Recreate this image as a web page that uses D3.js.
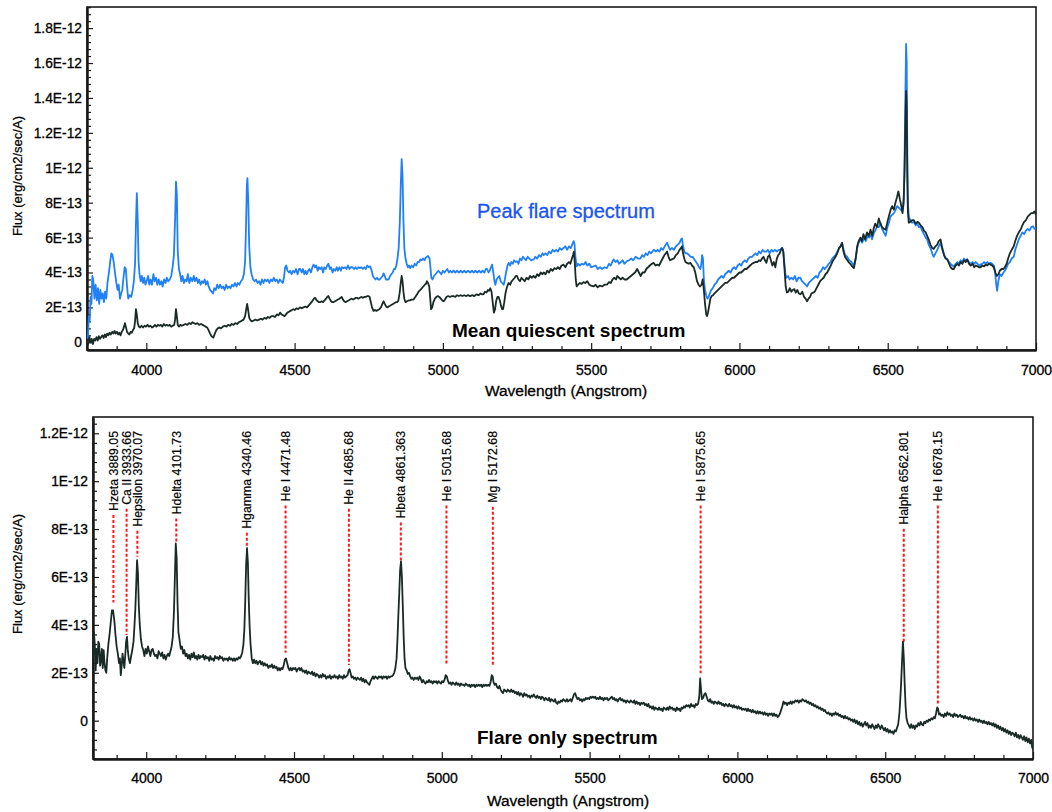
<!DOCTYPE html>
<html><head><meta charset="utf-8">
<script src="https://cdn.jsdelivr.net/npm/d3@7"></script>
<style>body{margin:0;background:#fff;} svg{display:block;} text{font-family:"Liberation Sans",Arial,sans-serif;}</style>
</head><body><svg id="c" width="1052" height="812"></svg>
<script>
// Flux values in units of 1E-13 erg/cm2/sec/A, wavelength in Angstrom
const peakFlare = [[3800,0.4],[3803,0.2],[3806,1.5],[3809,1.2],[3812,2.6],[3815,2.2],[3818,3.8],[3821,3.6],[3825,2.5],[3829,3.3],[3833,2.4],[3837,3.1],[3841,2.2],[3845,3.0],[3849,2.5],[3853,2.8],[3857,2.3],[3861,2.9],[3865,2.5],[3869,3.4],[3874,4.0],[3878,4.6],[3882,5.1],[3886,5.0],[3890,4.6],[3895,3.9],[3899,3.4],[3903,3.0],[3907,3.3],[3911,2.5],[3915,2.8],[3919,3.0],[3923,3.7],[3927,4.3],[3931,4.2],[3935,3.2],[3939,2.5],[3944,2.7],[3949,2.6],[3954,3.0],[3958,3.5],[3962,4.5],[3965,6.8],[3968,8.55],[3971,7.0],[3974,4.6],[3977,3.9],[3981,3.5],[3985,3.8],[3989,3.4],[3993,3.7],[3997,3.3],[4001,3.5],[4006,3.8],[4010,3.3],[4014,3.6],[4019,3.3],[4024,3.9],[4028,3.5],[4033,3.7],[4037,3.3],[4042,3.6],[4046,3.3],[4051,3.5],[4055,3.2],[4060,3.6],[4065,3.4],[4069,3.7],[4074,3.5],[4079,3.6],[4084,3.8],[4089,4.35],[4093,5.0],[4097,7.0],[4100,9.2],[4103,8.5],[4106,5.2],[4110,4.2],[4114,3.9],[4118,3.5],[4122,3.8],[4127,3.4],[4131,3.6],[4136,3.5],[4140,3.9],[4145,3.4],[4150,3.7],[4155,3.5],[4160,3.8],[4164,3.5],[4169,3.7],[4174,3.4],[4178,3.6],[4183,3.3],[4188,3.5],[4192,3.4],[4197,3.6],[4201,3.3],[4206,3.5],[4210,3.2],[4215,3.0],[4220,2.9],[4225,2.8],[4229,3.1],[4234,3.0],[4239,3.3],[4244,3.1],[4249,3.3],[4254,3.1],[4259,3.2],[4264,3.0],[4269,3.3],[4274,3.1],[4279,3.2],[4284,3.1],[4289,3.3],[4294,3.2],[4299,3.4],[4304,3.2],[4309,3.4],[4314,3.3],[4319,3.5],[4324,3.6],[4329,3.9],[4333,4.6],[4336,6.5],[4339,9.0],[4341,9.4],[4344,8.0],[4347,5.5],[4351,4.3],[4355,3.9],[4360,3.6],[4365,3.5],[4370,3.6],[4375,3.4],[4380,3.5],[4385,3.3],[4390,3.6],[4395,3.4],[4400,3.6],[4405,3.5],[4410,3.6],[4415,3.4],[4420,3.6],[4425,3.5],[4430,3.7],[4435,3.5],[4440,3.6],[4445,3.4],[4450,3.6],[4455,3.5],[4460,3.4],[4464,3.7],[4468,4.3],[4472,4.4],[4476,4.1],[4481,4.0],[4485,4.1],[4490,3.9],[4495,4.1],[4500,4.0],[4505,4.2],[4510,3.9],[4515,4.2],[4519,4.2],[4524,4.0],[4528,4.2],[4533,3.9],[4537,4.1],[4541,3.9],[4546,4.1],[4550,4.2],[4555,4.0],[4560,4.3],[4564,4.45],[4569,4.3],[4573,4.4],[4578,4.1],[4582,4.3],[4586,4.2],[4591,4.3],[4596,4.0],[4600,4.3],[4605,4.2],[4610,4.4],[4614,4.5],[4619,4.2],[4623,4.3],[4628,4.0],[4632,4.2],[4637,4.1],[4642,4.3],[4646,4.1],[4651,4.3],[4656,4.1],[4660,4.3],[4665,4.25],[4670,4.3],[4675,4.2],[4680,4.4],[4685,4.2],[4690,4.3],[4695,4.3],[4700,4.2],[4705,4.3],[4710,4.2],[4715,4.3],[4720,4.25],[4725,4.3],[4730,4.2],[4735,4.3],[4740,4.2],[4745,4.4],[4750,4.3],[4755,4.35],[4760,4.1],[4764,3.8],[4768,3.7],[4773,3.6],[4778,3.7],[4782,3.6],[4787,3.6],[4792,3.7],[4797,3.8],[4800,3.95],[4804,3.8],[4808,3.6],[4813,3.6],[4817,3.6],[4822,3.8],[4826,3.9],[4831,4.0],[4835,4.2],[4839,4.2],[4843,4.4],[4847,4.8],[4851,5.4],[4855,7.0],[4858,9.0],[4861,10.5],[4864,9.5],[4867,7.0],[4870,5.4],[4874,4.8],[4878,4.5],[4882,4.3],[4886,4.4],[4890,4.25],[4895,4.4],[4900,4.3],[4905,4.5],[4910,4.4],[4915,4.6],[4920,4.6],[4924,4.75],[4929,4.7],[4933,4.8],[4938,4.7],[4942,4.85],[4946,4.9],[4950,4.95],[4955,4.8],[4958,4.3],[4961,3.7],[4965,3.6],[4970,3.8],[4975,3.9],[4980,4.0],[4985,4.1],[4990,4.0],[4995,3.9],[5000,4.1],[5005,4.0],[5010,4.1],[5015,4.2],[5020,4.0],[5025,4.1],[5030,4.0],[5036,4.1],[5042,4.0],[5048,4.1],[5054,4.0],[5060,4.1],[5066,4.0],[5072,4.1],[5078,4.0],[5085,4.1],[5092,4.0],[5098,4.1],[5104,4.0],[5110,4.1],[5116,4.0],[5122,4.1],[5128,4.0],[5134,4.1],[5140,4.0],[5145,4.2],[5149,4.2],[5154,4.0],[5158,4.1],[5162,4.3],[5166,4.45],[5170,4.0],[5174,3.5],[5177,3.3],[5181,3.6],[5185,3.7],[5190,3.8],[5195,3.5],[5200,3.4],[5205,3.3],[5209,3.6],[5213,4.0],[5218,4.4],[5222,4.55],[5227,4.4],[5231,4.6],[5236,4.5],[5240,4.7],[5245,4.6],[5250,4.65],[5255,4.5],[5260,4.8],[5265,4.7],[5270,4.9],[5275,4.8],[5280,4.7],[5286,4.9],[5292,4.8],[5298,4.7],[5306,4.75],[5312,4.9],[5318,4.8],[5324,5.0],[5330,4.9],[5336,5.1],[5340,5.0],[5346,5.1],[5352,5.0],[5358,5.2],[5364,5.1],[5370,5.3],[5376,5.2],[5382,5.3],[5388,5.2],[5394,5.4],[5400,5.3],[5407,5.4],[5413,5.5],[5419,5.3],[5425,5.5],[5431,5.4],[5436,5.6],[5441,5.8],[5444,5.6],[5447,4.9],[5451,4.35],[5456,4.5],[5462,4.4],[5468,4.5],[5475,4.45],[5481,4.6],[5487,4.4],[5494,4.5],[5500,4.3],[5508,4.35],[5515,4.4],[5522,4.2],[5530,4.3],[5537,4.2],[5545,4.3],[5553,4.25],[5560,4.5],[5566,4.4],[5571,4.6],[5576,4.75],[5582,4.6],[5588,4.7],[5594,4.5],[5600,4.6],[5606,4.7],[5612,4.5],[5621,4.65],[5628,4.7],[5635,4.8],[5642,4.7],[5650,4.9],[5658,4.8],[5666,4.8],[5672,5.0],[5678,4.9],[5684,5.1],[5690,5.0],[5696,5.2],[5702,5.1],[5711,5.3],[5718,5.2],[5724,5.3],[5730,5.2],[5736,5.4],[5742,5.3],[5748,5.5],[5752,5.6],[5756,5.7],[5761,5.5],[5766,5.3],[5772,5.4],[5779,5.3],[5786,5.5],[5792,5.6],[5798,5.7],[5803,5.9],[5806,5.95],[5810,5.5],[5814,5.2],[5818,5.1],[5823,5.1],[5830,5.0],[5836,4.9],[5842,4.9],[5846,4.8],[5852,4.65],[5858,4.5],[5864,4.3],[5868,4.2],[5871,4.4],[5874,5.0],[5877,4.8],[5880,3.6],[5884,3.0],[5888,2.7],[5892,2.5],[5896,2.6],[5900,2.8],[5905,3.0],[5910,3.1],[5916,3.3],[5922,3.4],[5928,3.6],[5934,3.7],[5940,3.8],[5946,3.7],[5952,3.9],[5958,4.0],[5964,4.1],[5970,4.0],[5976,4.2],[5982,4.3],[5988,4.2],[5994,4.4],[6000,4.5],[6006,4.4],[6012,4.6],[6018,4.7],[6024,4.6],[6030,4.8],[6036,4.9],[6042,4.9],[6048,5.0],[6054,5.1],[6060,5.0],[6066,5.2],[6072,5.1],[6078,5.3],[6084,5.2],[6090,5.2],[6096,5.3],[6102,5.1],[6108,5.3],[6114,5.2],[6120,5.3],[6126,5.2],[6132,5.3],[6138,5.3],[6143,5.4],[6147,5.3],[6151,4.6],[6155,3.9],[6159,3.7],[6164,3.8],[6169,3.6],[6175,3.7],[6181,3.6],[6187,3.8],[6193,3.5],[6199,3.7],[6205,3.7],[6211,3.5],[6217,3.4],[6223,3.3],[6228,3.2],[6234,3.4],[6240,3.5],[6246,3.6],[6252,3.7],[6258,3.8],[6264,3.7],[6270,4.0],[6276,4.1],[6282,4.3],[6288,4.2],[6295,4.35],[6301,4.5],[6307,4.6],[6313,4.8],[6318,4.9],[6324,5.0],[6330,5.2],[6336,5.4],[6341,5.5],[6346,5.7],[6351,5.3],[6356,5.0],[6363,4.9],[6370,4.7],[6378,4.6],[6386,4.4],[6392,4.8],[6397,5.4],[6402,5.7],[6408,5.9],[6414,5.7],[6420,6.0],[6426,5.8],[6432,6.1],[6437,6.0],[6442,6.25],[6447,5.9],[6453,6.25],[6458,6.4],[6464,6.65],[6470,6.6],[6476,6.85],[6481,6.5],[6487,6.3],[6493,6.1],[6499,6.6],[6505,6.9],[6509,7.2],[6515,7.3],[6521,7.4],[6527,7.6],[6532,7.8],[6538,7.7],[6544,7.6],[6549,7.5],[6553,7.8],[6556,9.5],[6559,13.5],[6562,17.1],[6564,16.0],[6566,11.0],[6568,8.0],[6571,7.2],[6576,7.0],[6582,6.85],[6588,6.9],[6594,6.7],[6600,6.8],[6605,6.6],[6610,6.65],[6616,6.4],[6622,6.2],[6628,6.0],[6633,5.9],[6638,5.6],[6644,5.4],[6650,5.1],[6655,4.9],[6661,5.1],[6667,5.3],[6672,5.5],[6678,5.7],[6684,5.3],[6690,5.0],[6695,4.85],[6701,4.75],[6707,4.6],[6712,4.5],[6718,4.4],[6723,4.35],[6729,4.5],[6735,4.6],[6740,4.5],[6746,4.7],[6752,4.6],[6757,4.8],[6763,4.7],[6768,4.75],[6774,4.6],[6780,4.5],[6786,4.6],[6792,4.5],[6797,4.6],[6803,4.5],[6808,4.4],[6813,4.45],[6819,4.5],[6825,4.6],[6830,4.5],[6836,4.6],[6841,4.5],[6847,4.55],[6852,4.5],[6858,4.4],[6862,4.0],[6866,3.3],[6869,2.95],[6873,3.5],[6878,3.9],[6884,3.8],[6890,4.0],[6895,4.1],[6901,4.3],[6906,4.5],[6912,4.6],[6918,4.8],[6925,4.9],[6930,5.3],[6936,5.6],[6942,5.9],[6948,6.1],[6954,6.3],[6960,6.2],[6966,6.4],[6972,6.5],[6978,6.4],[6984,6.6],[6990,6.65],[6995,6.5],[7000,6.55]];

const quiescent = [[3800,0.2],[3804,-0.1],[3808,0.3],[3812,0.0],[3816,0.2],[3820,-0.1],[3824,0.2],[3828,0.1],[3832,0.3],[3836,0.1],[3840,0.35],[3844,0.2],[3848,0.3],[3852,0.4],[3856,0.25],[3860,0.45],[3864,0.3],[3868,0.5],[3872,0.4],[3876,0.55],[3880,0.45],[3885,0.6],[3889,0.5],[3893,0.65],[3897,0.5],[3901,0.6],[3905,0.45],[3909,0.55],[3913,0.4],[3917,0.6],[3921,0.7],[3925,0.9],[3928,1.1],[3931,0.9],[3935,0.6],[3939,0.5],[3943,0.45],[3947,0.6],[3951,0.55],[3955,0.7],[3959,0.8],[3962,1.2],[3965,1.9],[3968,1.6],[3971,1.1],[3975,0.9],[3979,0.85],[3984,0.95],[3989,0.85],[3994,0.95],[3999,0.9],[4004,1.0],[4009,0.9],[4014,0.95],[4019,0.85],[4024,0.9],[4029,1.0],[4034,0.9],[4039,1.0],[4044,0.95],[4049,1.0],[4054,0.9],[4059,1.05],[4064,0.95],[4069,1.0],[4074,0.95],[4079,1.0],[4084,0.9],[4089,0.95],[4094,1.0],[4097,1.3],[4100,1.9],[4103,1.5],[4106,1.0],[4110,0.9],[4115,1.0],[4120,0.95],[4126,1.0],[4132,1.05],[4138,1.0],[4144,1.1],[4150,1.05],[4156,1.15],[4160,1.1],[4166,1.05],[4172,1.1],[4178,1.0],[4184,1.05],[4190,1.0],[4195,0.95],[4200,0.9],[4205,0.85],[4210,0.7],[4215,0.5],[4220,0.35],[4226,0.27],[4231,0.5],[4236,0.7],[4241,0.8],[4246,0.85],[4252,0.8],[4258,0.9],[4264,0.95],[4270,0.9],[4276,1.0],[4282,0.95],[4288,1.05],[4294,1.0],[4300,1.1],[4306,1.05],[4312,1.15],[4318,1.2],[4323,1.25],[4328,1.3],[4333,1.5],[4337,1.9],[4340,2.2],[4343,1.9],[4347,1.4],[4352,1.25],[4356,1.2],[4362,1.25],[4368,1.3],[4374,1.25],[4380,1.3],[4386,1.35],[4392,1.3],[4398,1.4],[4404,1.35],[4410,1.45],[4416,1.4],[4422,1.5],[4428,1.5],[4434,1.45],[4440,1.6],[4446,1.55],[4451,1.7],[4456,1.6],[4461,1.55],[4466,1.5],[4471,1.6],[4476,1.7],[4481,1.75],[4486,1.8],[4491,1.85],[4496,1.9],[4501,1.85],[4506,1.95],[4512,1.9],[4518,2.0],[4524,1.95],[4530,2.0],[4536,2.05],[4542,2.0],[4547,2.1],[4552,2.2],[4557,2.3],[4561,2.4],[4565,2.5],[4569,2.55],[4573,2.45],[4578,2.35],[4582,2.3],[4586,2.3],[4591,2.35],[4596,2.3],[4601,2.4],[4606,2.5],[4610,2.6],[4614,2.65],[4618,2.5],[4623,2.35],[4627,2.3],[4631,2.3],[4636,2.35],[4641,2.4],[4646,2.45],[4651,2.5],[4655,2.55],[4659,2.6],[4663,2.45],[4667,2.35],[4672,2.3],[4677,2.35],[4682,2.4],[4687,2.45],[4692,2.5],[4697,2.45],[4702,2.5],[4706,2.55],[4710,2.55],[4715,2.5],[4720,2.55],[4725,2.6],[4730,2.55],[4735,2.6],[4740,2.6],[4745,2.65],[4749,2.65],[4753,2.6],[4757,2.3],[4761,2.0],[4766,1.8],[4771,1.85],[4776,1.8],[4781,1.85],[4786,1.9],[4791,2.0],[4796,2.2],[4800,2.35],[4804,2.2],[4809,2.05],[4813,2.0],[4817,2.05],[4822,2.1],[4827,2.15],[4832,2.2],[4837,2.25],[4842,2.3],[4846,2.3],[4850,2.4],[4854,2.8],[4858,3.4],[4861,3.8],[4864,3.5],[4867,2.9],[4870,2.5],[4874,2.3],[4879,2.35],[4884,2.4],[4889,2.4],[4895,2.45],[4901,2.45],[4907,2.6],[4913,2.75],[4918,2.9],[4924,3.0],[4929,3.1],[4934,3.2],[4939,3.3],[4943,3.35],[4946,3.5],[4950,3.4],[4954,3.2],[4957,2.6],[4960,1.9],[4964,2.0],[4968,2.3],[4973,2.5],[4978,2.6],[4983,2.65],[4988,2.6],[4993,2.5],[4998,2.4],[5002,2.35],[5007,2.45],[5012,2.6],[5018,2.65],[5024,2.6],[5030,2.65],[5036,2.65],[5042,2.6],[5048,2.7],[5054,2.65],[5060,2.7],[5066,2.65],[5072,2.7],[5078,2.65],[5085,2.7],[5092,2.65],[5099,2.7],[5106,2.65],[5113,2.75],[5120,2.7],[5127,2.8],[5133,2.75],[5137,2.75],[5142,2.9],[5147,2.85],[5152,3.0],[5156,2.95],[5160,3.1],[5164,2.9],[5168,2.3],[5172,1.7],[5176,1.9],[5180,2.4],[5184,2.6],[5188,2.6],[5192,2.4],[5196,2.1],[5200,1.9],[5203,1.9],[5207,2.3],[5211,2.8],[5215,3.1],[5219,3.3],[5222,3.4],[5227,3.3],[5232,3.5],[5237,3.6],[5242,3.7],[5246,3.8],[5250,3.8],[5255,3.6],[5260,3.5],[5265,3.7],[5270,3.6],[5276,3.5],[5282,3.7],[5288,3.6],[5294,3.8],[5300,3.7],[5306,3.8],[5312,3.7],[5318,3.9],[5324,3.8],[5330,4.0],[5336,3.9],[5340,4.0],[5346,3.9],[5352,4.1],[5358,4.0],[5364,4.2],[5370,4.1],[5376,4.25],[5382,4.2],[5388,4.3],[5394,4.2],[5400,4.4],[5407,4.45],[5413,4.3],[5419,4.5],[5425,4.6],[5430,4.5],[5435,4.8],[5439,5.0],[5442,5.2],[5445,4.5],[5448,3.6],[5451,3.2],[5456,3.3],[5462,3.4],[5468,3.35],[5474,3.45],[5480,3.4],[5487,3.5],[5494,3.3],[5500,3.25],[5508,3.2],[5515,3.3],[5522,3.15],[5530,3.25],[5537,3.2],[5545,3.3],[5553,3.3],[5560,3.45],[5566,3.4],[5572,3.6],[5578,3.7],[5584,3.6],[5588,3.8],[5594,3.7],[5600,3.6],[5606,3.7],[5612,3.6],[5620,3.6],[5627,3.7],[5634,3.8],[5641,3.9],[5648,4.0],[5655,4.2],[5661,4.0],[5667,3.8],[5673,4.0],[5680,4.0],[5686,4.2],[5692,4.3],[5698,4.4],[5705,4.5],[5711,4.55],[5717,4.4],[5723,4.45],[5729,4.4],[5735,4.6],[5741,4.8],[5747,5.0],[5752,5.1],[5756,5.2],[5761,4.9],[5766,4.7],[5772,4.75],[5779,4.8],[5786,5.0],[5792,5.1],[5798,5.3],[5803,5.4],[5806,5.5],[5810,5.1],[5814,4.8],[5818,4.6],[5823,4.55],[5829,4.5],[5835,4.55],[5840,4.4],[5846,4.3],[5851,4.0],[5857,3.5],[5862,3.3],[5867,3.2],[5872,3.3],[5876,3.6],[5880,3.0],[5884,2.2],[5888,1.6],[5891,1.5],[5894,1.7],[5898,2.1],[5902,2.5],[5906,2.65],[5911,2.7],[5916,2.8],[5922,2.9],[5928,3.0],[5934,3.1],[5940,3.2],[5946,3.3],[5952,3.4],[5958,3.4],[5964,3.5],[5970,3.6],[5976,3.7],[5982,3.7],[5988,3.8],[5994,3.9],[6000,4.0],[6006,4.0],[6012,4.1],[6018,4.2],[6024,4.2],[6030,4.3],[6036,4.4],[6042,4.5],[6048,4.55],[6054,4.6],[6060,4.6],[6066,4.7],[6071,4.65],[6076,4.8],[6081,4.9],[6086,4.7],[6091,4.55],[6096,4.9],[6101,5.0],[6106,4.7],[6111,4.4],[6116,4.6],[6121,4.3],[6126,4.8],[6131,5.0],[6136,5.1],[6140,5.3],[6144,5.4],[6148,5.2],[6152,4.2],[6156,3.2],[6160,2.85],[6165,2.9],[6170,3.1],[6175,2.9],[6180,3.0],[6185,3.05],[6190,2.85],[6195,3.0],[6200,2.8],[6206,2.75],[6212,2.9],[6218,2.6],[6223,2.5],[6228,2.35],[6233,2.5],[6238,2.6],[6243,2.8],[6248,2.85],[6254,2.9],[6260,3.1],[6266,3.3],[6272,3.5],[6278,3.6],[6284,3.7],[6290,3.9],[6296,4.0],[6302,4.2],[6308,4.4],[6313,4.6],[6318,4.75],[6324,4.9],[6330,5.1],[6336,5.4],[6341,5.5],[6346,5.7],[6351,5.2],[6356,4.9],[6362,4.75],[6368,4.6],[6374,4.5],[6380,4.35],[6386,4.25],[6392,4.8],[6397,5.5],[6402,5.8],[6408,6.0],[6413,5.8],[6418,6.2],[6424,5.9],[6430,6.3],[6436,6.1],[6442,6.45],[6448,6.1],[6453,6.55],[6458,6.8],[6464,6.6],[6470,7.1],[6475,6.8],[6481,6.6],[6487,6.5],[6493,6.45],[6499,6.9],[6505,7.3],[6510,7.6],[6515,7.8],[6521,7.6],[6526,8.0],[6531,8.3],[6536,8.65],[6541,8.2],[6546,7.8],[6550,7.4],[6554,8.2],[6557,10.0],[6560,13.0],[6562,14.4],[6564,13.4],[6566,9.5],[6568,7.5],[6571,6.85],[6576,6.9],[6582,7.0],[6588,7.0],[6594,6.8],[6600,6.9],[6605,6.85],[6611,6.7],[6617,6.6],[6622,6.4],[6628,6.3],[6633,6.1],[6638,5.9],[6644,5.6],[6650,5.4],[6655,5.35],[6661,5.5],[6667,5.6],[6672,5.8],[6678,5.9],[6684,5.4],[6690,5.0],[6695,4.8],[6701,4.75],[6707,4.5],[6712,4.3],[6718,4.2],[6723,4.2],[6729,4.4],[6735,4.5],[6740,4.4],[6746,4.6],[6752,4.5],[6757,4.7],[6763,4.6],[6768,4.75],[6774,4.5],[6780,4.4],[6786,4.5],[6792,4.3],[6797,4.4],[6803,4.35],[6808,4.3],[6813,4.3],[6819,4.4],[6825,4.35],[6830,4.45],[6836,4.4],[6841,4.5],[6847,4.45],[6852,4.4],[6858,4.3],[6863,4.0],[6868,3.8],[6873,3.9],[6878,4.1],[6884,4.2],[6890,4.2],[6895,4.3],[6901,4.5],[6906,4.8],[6912,5.1],[6918,5.3],[6925,5.5],[6930,5.8],[6936,6.1],[6942,6.3],[6948,6.45],[6954,6.7],[6960,6.9],[6966,7.0],[6972,7.2],[6978,7.3],[6984,7.4],[6990,7.4],[6995,7.5],[7000,7.3]];

const flareOnly = [[3820,2.6],[3823,3.7],[3826,3.2],[3829,2.1],[3832,3.0],[3835,2.4],[3838,3.3],[3841,3.2],[3844,2.3],[3847,2.5],[3850,3.0],[3853,2.2],[3856,2.95],[3859,2.4],[3862,2.1],[3865,2.0],[3868,2.6],[3872,3.2],[3876,3.6],[3880,4.1],[3884,4.6],[3888,4.6],[3892,4.2],[3896,3.6],[3900,3.1],[3904,2.8],[3908,2.4],[3911,2.6],[3914,1.9],[3917,2.3],[3920,2.8],[3923,2.5],[3926,2.2],[3929,2.7],[3932,3.3],[3935,3.5],[3938,2.9],[3941,2.6],[3945,2.4],[3949,2.7],[3953,2.95],[3957,3.3],[3960,3.9],[3963,4.6],[3966,5.6],[3969,6.7],[3972,6.2],[3975,4.8],[3978,4.05],[3982,3.4],[3986,3.1],[3990,2.95],[3994,2.7],[3998,3.0],[4002,2.8],[4006,3.1],[4010,2.9],[4014,2.7],[4018,2.95],[4022,3.0],[4026,2.8],[4030,2.7],[4034,2.75],[4038,2.6],[4042,2.9],[4046,2.8],[4050,2.7],[4054,2.85],[4058,2.6],[4062,2.75],[4066,2.55],[4070,2.7],[4074,2.8],[4078,2.7],[4082,2.9],[4086,3.1],[4090,3.5],[4094,4.6],[4097,6.0],[4100,7.4],[4103,6.8],[4106,4.9],[4109,3.7],[4113,3.35],[4117,3.0],[4121,3.1],[4125,2.8],[4129,2.95],[4133,2.7],[4137,2.8],[4141,2.6],[4145,2.75],[4149,2.55],[4153,2.8],[4157,2.65],[4161,2.85],[4165,2.6],[4169,2.7],[4173,2.55],[4177,2.75],[4181,2.6],[4185,2.7],[4189,2.65],[4193,2.75],[4197,2.55],[4201,2.7],[4205,2.6],[4209,2.65],[4213,2.5],[4217,2.7],[4221,2.55],[4225,2.6],[4229,2.5],[4233,2.7],[4237,2.6],[4241,2.65],[4245,2.55],[4249,2.7],[4253,2.6],[4257,2.65],[4261,2.5],[4265,2.6],[4269,2.55],[4273,2.6],[4277,2.5],[4281,2.65],[4285,2.55],[4289,2.6],[4293,2.5],[4297,2.6],[4301,2.5],[4305,2.6],[4309,2.55],[4313,2.65],[4317,2.6],[4321,2.7],[4325,2.85],[4329,3.2],[4332,3.8],[4335,5.0],[4338,6.5],[4341,7.2],[4344,6.6],[4347,5.0],[4350,3.9],[4353,3.2],[4357,2.6],[4361,2.4],[4365,2.55],[4369,2.4],[4373,2.5],[4377,2.35],[4381,2.45],[4385,2.5],[4389,2.35],[4393,2.45],[4397,2.3],[4401,2.4],[4405,2.3],[4409,2.35],[4413,2.2],[4417,2.3],[4421,2.25],[4425,2.35],[4429,2.2],[4433,2.3],[4437,2.2],[4441,2.25],[4445,2.1],[4449,2.2],[4453,2.1],[4457,2.2],[4461,2.15],[4465,2.3],[4469,2.55],[4473,2.6],[4477,2.4],[4481,2.2],[4485,2.1],[4489,2.2],[4493,2.1],[4497,2.2],[4501,2.15],[4505,2.2],[4509,2.05],[4513,2.15],[4517,2.2],[4521,2.1],[4525,2.2],[4529,2.05],[4533,2.1],[4537,2.0],[4541,2.1],[4545,1.95],[4549,2.05],[4553,2.0],[4557,1.95],[4561,2.05],[4565,1.9],[4569,2.0],[4573,1.85],[4577,1.95],[4581,1.9],[4585,1.8],[4589,1.9],[4593,1.8],[4597,1.95],[4601,1.85],[4605,1.9],[4609,1.75],[4613,1.85],[4617,1.8],[4621,1.9],[4625,1.75],[4629,1.85],[4633,1.8],[4637,1.9],[4641,1.8],[4645,1.85],[4649,1.75],[4653,1.9],[4657,1.8],[4661,1.85],[4665,1.75],[4669,1.9],[4673,1.8],[4677,1.85],[4681,1.9],[4685,2.1],[4688,2.15],[4691,2.0],[4695,1.8],[4699,1.85],[4703,1.75],[4707,1.8],[4711,1.7],[4715,1.8],[4719,1.75],[4723,1.7],[4727,1.8],[4731,1.65],[4735,1.75],[4739,1.6],[4743,1.7],[4747,1.6],[4751,1.55],[4755,1.5],[4759,1.65],[4763,1.75],[4767,1.85],[4771,1.75],[4775,1.85],[4779,1.8],[4783,1.75],[4787,1.85],[4791,1.8],[4795,1.85],[4799,1.75],[4803,1.85],[4807,1.8],[4811,1.85],[4815,1.75],[4819,1.85],[4823,1.8],[4827,1.85],[4831,1.85],[4835,1.9],[4839,2.0],[4843,2.2],[4847,2.6],[4850,3.4],[4853,4.4],[4856,5.3],[4859,6.3],[4862,6.65],[4865,6.0],[4868,4.8],[4871,3.5],[4874,2.6],[4877,2.2],[4881,2.1],[4885,1.95],[4889,2.0],[4893,1.85],[4897,1.75],[4901,1.8],[4905,1.7],[4909,1.8],[4913,1.75],[4917,1.8],[4921,1.7],[4925,1.85],[4929,1.75],[4933,1.6],[4937,1.7],[4941,1.6],[4945,1.55],[4949,1.65],[4953,1.6],[4957,1.7],[4961,1.6],[4965,1.65],[4969,1.55],[4973,1.65],[4977,1.6],[4981,1.65],[4985,1.55],[4989,1.65],[4993,1.6],[4997,1.55],[5001,1.65],[5005,1.6],[5009,1.7],[5013,1.9],[5017,1.85],[5021,1.65],[5025,1.55],[5029,1.6],[5033,1.5],[5037,1.6],[5041,1.55],[5045,1.5],[5049,1.6],[5053,1.5],[5057,1.55],[5061,1.45],[5065,1.55],[5069,1.5],[5073,1.5],[5077,1.45],[5081,1.55],[5085,1.5],[5089,1.45],[5093,1.5],[5097,1.4],[5101,1.5],[5105,1.45],[5109,1.5],[5113,1.4],[5117,1.5],[5121,1.45],[5125,1.5],[5129,1.45],[5133,1.5],[5137,1.4],[5141,1.5],[5145,1.45],[5149,1.5],[5153,1.45],[5157,1.5],[5161,1.45],[5165,1.6],[5169,1.9],[5172,1.85],[5175,1.6],[5179,1.5],[5183,1.55],[5187,1.4],[5191,1.35],[5195,1.45],[5199,1.3],[5203,1.2],[5207,1.15],[5211,1.3],[5215,1.25],[5219,1.2],[5223,1.3],[5227,1.25],[5231,1.2],[5235,1.3],[5239,1.2],[5243,1.25],[5247,1.15],[5251,1.2],[5255,1.1],[5259,1.2],[5263,1.05],[5267,1.15],[5271,1.1],[5275,1.0],[5279,1.15],[5283,1.05],[5287,1.1],[5291,1.0],[5295,1.05],[5299,0.95],[5303,1.05],[5307,1.0],[5311,1.1],[5315,1.0],[5319,0.95],[5323,1.05],[5327,0.95],[5331,1.0],[5335,0.9],[5339,1.0],[5343,0.95],[5347,0.85],[5351,0.95],[5355,0.9],[5359,0.85],[5363,0.95],[5367,0.8],[5371,0.9],[5375,0.85],[5379,0.8],[5383,0.9],[5387,0.75],[5391,0.7],[5395,0.8],[5399,0.75],[5403,0.85],[5407,0.8],[5411,0.9],[5415,0.85],[5419,0.8],[5423,0.9],[5427,0.8],[5431,0.85],[5435,0.9],[5439,0.8],[5443,0.95],[5447,1.1],[5451,1.15],[5455,1.0],[5459,0.9],[5463,0.95],[5467,0.85],[5471,0.9],[5475,0.8],[5479,0.9],[5483,0.85],[5487,0.95],[5491,0.9],[5495,0.95],[5499,0.9],[5503,1.0],[5507,0.95],[5511,1.0],[5515,0.95],[5519,1.0],[5523,0.9],[5527,0.95],[5531,0.9],[5535,1.0],[5539,0.9],[5543,0.95],[5547,0.85],[5551,0.95],[5555,0.9],[5559,0.95],[5563,0.85],[5567,0.9],[5571,0.95],[5575,1.0],[5579,0.9],[5583,0.95],[5587,0.85],[5591,0.9],[5595,0.8],[5599,0.9],[5603,0.95],[5607,0.85],[5611,0.9],[5615,0.8],[5619,0.85],[5623,0.75],[5627,0.85],[5631,0.8],[5635,0.75],[5639,0.85],[5643,0.8],[5647,0.75],[5651,0.85],[5655,0.7],[5659,0.8],[5663,0.7],[5667,0.75],[5671,0.65],[5675,0.75],[5679,0.7],[5683,0.75],[5687,0.65],[5691,0.7],[5695,0.6],[5699,0.7],[5703,0.55],[5707,0.6],[5711,0.5],[5715,0.6],[5719,0.45],[5723,0.55],[5727,0.5],[5731,0.45],[5735,0.55],[5739,0.45],[5743,0.5],[5747,0.4],[5751,0.55],[5755,0.5],[5759,0.45],[5763,0.55],[5767,0.45],[5771,0.6],[5775,0.5],[5779,0.55],[5783,0.45],[5787,0.5],[5791,0.4],[5795,0.55],[5799,0.45],[5803,0.5],[5807,0.4],[5811,0.55],[5815,0.5],[5819,0.6],[5823,0.55],[5827,0.65],[5831,0.6],[5835,0.65],[5839,0.55],[5843,0.7],[5847,0.6],[5851,0.65],[5855,0.55],[5859,0.7],[5863,0.65],[5867,0.7],[5871,1.0],[5874,1.77],[5877,1.3],[5880,0.9],[5884,0.95],[5888,1.1],[5892,1.15],[5896,1.0],[5900,0.85],[5904,0.8],[5908,0.9],[5912,0.75],[5916,0.8],[5920,0.7],[5924,0.8],[5928,0.75],[5932,0.7],[5936,0.8],[5940,0.7],[5944,0.75],[5948,0.65],[5952,0.7],[5956,0.6],[5960,0.7],[5964,0.65],[5968,0.6],[5972,0.7],[5976,0.6],[5980,0.65],[5984,0.55],[5988,0.65],[5992,0.55],[5996,0.6],[6000,0.5],[6004,0.6],[6008,0.5],[6012,0.55],[6016,0.45],[6020,0.5],[6024,0.45],[6028,0.5],[6032,0.4],[6036,0.5],[6040,0.4],[6044,0.45],[6048,0.35],[6052,0.45],[6056,0.35],[6060,0.4],[6064,0.3],[6068,0.4],[6072,0.3],[6076,0.38],[6080,0.3],[6084,0.35],[6088,0.25],[6092,0.35],[6096,0.25],[6100,0.3],[6104,0.2],[6108,0.3],[6112,0.25],[6116,0.3],[6120,0.2],[6124,0.3],[6128,0.2],[6132,0.25],[6136,0.15],[6140,0.2],[6144,0.3],[6148,0.45],[6152,0.6],[6156,0.8],[6160,0.7],[6164,0.75],[6168,0.65],[6172,0.75],[6176,0.7],[6180,0.8],[6184,0.7],[6188,0.8],[6192,0.75],[6196,0.85],[6200,0.8],[6204,0.85],[6208,0.75],[6212,0.85],[6216,0.8],[6220,0.9],[6224,0.86],[6228,0.8],[6232,0.85],[6236,0.75],[6240,0.8],[6244,0.7],[6248,0.75],[6252,0.65],[6256,0.7],[6260,0.6],[6264,0.65],[6268,0.55],[6272,0.6],[6276,0.5],[6280,0.55],[6284,0.45],[6288,0.5],[6292,0.4],[6296,0.45],[6300,0.35],[6304,0.3],[6308,0.35],[6312,0.25],[6316,0.3],[6320,0.2],[6324,0.3],[6328,0.25],[6332,0.35],[6336,0.25],[6340,0.3],[6344,0.2],[6348,0.25],[6352,0.15],[6356,0.2],[6360,0.1],[6364,0.2],[6368,0.1],[6372,0.15],[6376,0.05],[6380,0.1],[6384,0.0],[6388,0.05],[6392,-0.05],[6396,0.05],[6400,-0.1],[6404,0.0],[6408,-0.15],[6412,-0.05],[6416,-0.2],[6420,-0.1],[6424,-0.25],[6428,-0.15],[6432,-0.05],[6436,-0.2],[6440,-0.1],[6444,-0.3],[6448,-0.2],[6452,-0.3],[6456,-0.15],[6460,-0.25],[6464,-0.35],[6468,-0.2],[6472,-0.3],[6476,-0.15],[6480,-0.25],[6484,-0.35],[6488,-0.2],[6492,-0.3],[6496,-0.4],[6500,-0.3],[6504,-0.45],[6508,-0.35],[6512,-0.5],[6516,-0.4],[6520,-0.5],[6524,-0.45],[6528,-0.55],[6532,-0.4],[6536,-0.45],[6540,-0.3],[6544,-0.15],[6548,0.3],[6551,0.9],[6554,1.6],[6557,2.5],[6560,3.3],[6563,2.6],[6566,1.5],[6569,0.6],[6572,0.1],[6576,-0.1],[6580,-0.2],[6584,-0.3],[6588,-0.15],[6592,-0.3],[6596,-0.2],[6600,-0.35],[6604,-0.2],[6608,-0.25],[6612,-0.1],[6616,-0.2],[6620,-0.05],[6624,-0.15],[6628,-0.2],[6632,-0.05],[6636,-0.1],[6640,0.0],[6644,-0.05],[6648,0.05],[6652,0.0],[6656,0.1],[6660,0.05],[6664,0.15],[6668,0.1],[6672,0.3],[6676,0.55],[6679,0.5],[6682,0.25],[6686,0.3],[6690,0.2],[6694,0.25],[6698,0.15],[6702,0.3],[6706,0.2],[6710,0.35],[6714,0.25],[6718,0.3],[6722,0.2],[6726,0.25],[6730,0.15],[6734,0.3],[6738,0.2],[6742,0.25],[6746,0.15],[6750,0.2],[6754,0.25],[6758,0.15],[6762,0.2],[6766,0.1],[6770,0.2],[6774,0.1],[6778,0.15],[6782,0.05],[6786,0.15],[6790,0.05],[6794,0.1],[6798,0.0],[6802,0.1],[6806,0.0],[6810,0.05],[6814,-0.05],[6818,0.05],[6822,-0.05],[6826,0.0],[6830,-0.1],[6834,0.0],[6838,-0.1],[6842,-0.05],[6846,-0.15],[6850,-0.05],[6854,-0.15],[6858,-0.1],[6862,-0.2],[6866,-0.1],[6870,-0.25],[6874,-0.15],[6878,-0.3],[6882,-0.2],[6886,-0.35],[6890,-0.25],[6894,-0.4],[6898,-0.3],[6902,-0.45],[6906,-0.35],[6910,-0.5],[6914,-0.4],[6918,-0.55],[6922,-0.45],[6926,-0.6],[6930,-0.5],[6934,-0.55],[6938,-0.65],[6942,-0.5],[6946,-0.7],[6950,-0.6],[6954,-0.75],[6958,-0.6],[6962,-0.7],[6966,-0.8],[6970,-0.65],[6974,-0.85],[6978,-0.7],[6982,-0.9],[6986,-0.75],[6990,-0.95],[6994,-0.8],[6997,-1.1],[7000,-1.2]];

const lineNames = ["Hzeta 3889.05","Ca II 3933.66","Hepsilon 3970.07","Hdelta 4101.73","Hgamma 4340.46","He I 4471.48","He II 4685.68","Hbeta 4861.363","He I 5015.68","Mg I 5172.68","He I 5875.65","Halpha 6562.801","He I 6678.15"];
const lineWaves = [3889.05,3933.66,3970.07,4101.73,4340.46,4471.48,4685.68,4861.363,5015.68,5172.68,5875.65,6562.801,6678.15];
const lineMarkFlux = [4.93,3.58,6.85,7.47,7.21,2.84,2.33,6.64,2.33,2.25,1.98,3.23,0.66];

const xTickValues = [4000,4500,5000,5500,6000,6500,7000];
const topYTickValues = [0,2,4,6,8,10,12,14,16,18];
const topYTickLabels = ["0","2E-13","4E-13","6E-13","8E-13","1E-12","1.2E-12","1.4E-12","1.6E-12","1.8E-12"];
const botYTickValues = [0,2,4,6,8,10,12];
const botYTickLabels = ["0","2E-13","4E-13","6E-13","8E-13","1E-12","1.2E-12"];

const BLUE = "#1f80f7", DARK = "#1a2a26", AXIS = "#1a1a1a";
const svg = d3.select("#c");
svg.append("rect").attr("width",1052).attr("height",812).attr("fill","#fff");

function heavy(sel, w){ sel.attr("fill","#000").attr("stroke","#000").attr("stroke-width",w).attr("paint-order","stroke"); }

function panel(opts){
  const {x0,x1,y0,y1,xDom,yDom,yVals,yLabels,xPad,clipId} = opts;
  const x = d3.scaleLinear().domain(xDom).range([x0,x1]);
  const y = d3.scaleLinear().domain(yDom).range([y1,y0]);
  const g = svg.append("g");
  g.append("clipPath").attr("id",clipId).append("rect").attr("x",x0).attr("y",y0).attr("width",x1-x0).attr("height",y1-y0);
  const minorX = d3.range(Math.ceil(xDom[0]/100)*100, xDom[1]+1, 100).filter(v=>v%500!==0);
  const minorY = d3.range(Math.ceil(yDom[0]/0.4)*0.4, yDom[1], 0.4).filter(v=>Math.abs(v/2-Math.round(v/2))>0.01);
  const gx = g.append("g").attr("transform",`translate(0,${y1})`)
    .call(d3.axisBottom(x).tickValues(xTickValues).tickSizeInner(-7).tickSizeOuter(0).tickPadding(xPad).tickFormat(d3.format("d")));
  g.append("g").attr("transform",`translate(0,${y1})`)
    .call(d3.axisBottom(x).tickValues(minorX).tickSizeInner(-4).tickSizeOuter(0).tickFormat(""));
  const gy = g.append("g").attr("transform",`translate(${x0},0)`)
    .call(d3.axisLeft(y).tickValues(yVals).tickSizeInner(-6).tickSizeOuter(0).tickPadding(5).tickFormat((d,i)=>yLabels[i]));
  g.append("g").attr("transform",`translate(${x0},0)`)
    .call(d3.axisLeft(y).tickValues(minorY).tickSizeInner(-4).tickSizeOuter(0).tickFormat(""));
  g.selectAll(".domain").attr("stroke",AXIS).attr("stroke-width",2);
  g.selectAll(".tick line").attr("stroke",AXIS).attr("stroke-width",1.2);
  gx.selectAll("text").style("font-size","14px").call(heavy,0.3);
  gy.selectAll("text").style("font-size","13.8px").call(heavy,0.3);
  g.append("rect").attr("x",x0).attr("y",y0).attr("width",x1-x0).attr("height",y1-y0)
    .attr("fill","none").attr("stroke",AXIS).attr("stroke-width",1.6);
  return {x,y,g};
}

// ---- top panel ----
const topP = panel({x0:87,x1:1036,y0:7,y1:350,xDom:[3800,7000],yDom:[-0.44,19.21],yVals:topYTickValues,yLabels:topYTickLabels,xPad:15,clipId:"clipTop"});
const lineTop = d3.line().x(d=>topP.x(d[0])).y(d=>topP.y(d[1]));
topP.g.append("path").datum(peakFlare).attr("d",lineTop).attr("fill","none").attr("stroke",BLUE).attr("stroke-width",1.8).attr("stroke-linejoin","round").attr("clip-path","url(#clipTop)");
topP.g.append("path").datum(quiescent).attr("d",lineTop).attr("fill","none").attr("stroke",DARK).attr("stroke-width",1.8).attr("stroke-linejoin","round").attr("clip-path","url(#clipTop)");
topP.g.append("text").attr("x",477).attr("y",218).attr("fill","#1a55f0").attr("stroke","#1a55f0").attr("stroke-width",0.3).style("font-size","20px").text("Peak flare spectrum");
topP.g.append("text").attr("x",452).attr("y",337).attr("fill","#000").style("font-size","19px").style("font-weight","bold").text("Mean quiescent spectrum");
topP.g.append("text").attr("transform","translate(22,176) rotate(-90)").attr("text-anchor","middle").style("font-size","13px").call(heavy,0.25).text("Flux (erg/cm2/sec/A)");
topP.g.append("text").attr("x",566).attr("y",396).attr("text-anchor","middle").style("font-size","15.5px").call(heavy,0.3).text("Wavelength (Angstrom)");

// ---- bottom panel ----
const botP = panel({x0:93,x1:1033,y0:417,y1:759,xDom:[3820,7000],yDom:[-1.6,12.68],yVals:botYTickValues,yLabels:botYTickLabels,xPad:14,clipId:"clipBot"});
const lineBot = d3.line().x(d=>botP.x(d[0])).y(d=>botP.y(d[1]));
lineNames.forEach((name,i)=>{
  const xp = botP.x(lineWaves[i]);
  const t = botP.g.append("text").attr("transform",`translate(${xp},431) rotate(-90)`)
    .attr("text-anchor","end").attr("dy","0.35em").style("font-size","12.3px").call(heavy,0.2).text(name);
  const len = t.node().getComputedTextLength();
  botP.g.append("line").attr("x1",xp).attr("x2",xp).attr("y1",431+len+4).attr("y2",botP.y(lineMarkFlux[i]))
    .attr("stroke","#ff1a1a").attr("stroke-width",2).attr("stroke-dasharray","3,2");
});
botP.g.append("path").datum(flareOnly).attr("d",lineBot).attr("fill","none").attr("stroke",DARK).attr("stroke-width",1.8).attr("stroke-linejoin","round").attr("clip-path","url(#clipBot)");
botP.g.append("text").attr("x",477).attr("y",744).attr("fill","#000").style("font-size","19px").style("font-weight","bold").text("Flare only spectrum");
botP.g.append("text").attr("transform","translate(22,574) rotate(-90)").attr("text-anchor","middle").style("font-size","13px").call(heavy,0.25).text("Flux (erg/cm2/sec/A)");
botP.g.append("text").attr("x",568).attr("y",806).attr("text-anchor","middle").style("font-size","15.5px").call(heavy,0.3).text("Wavelength (Angstrom)");
</script></body></html>
